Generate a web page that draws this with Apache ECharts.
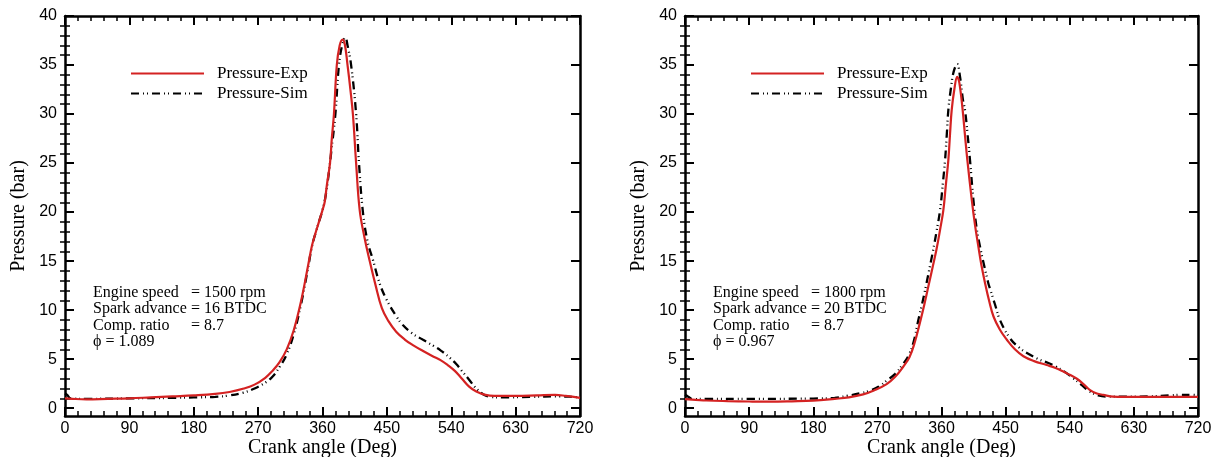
<!DOCTYPE html>
<html>
<head>
<meta charset="utf-8">
<script src="https://cdn.jsdelivr.net/npm/echarts@6/dist/echarts.min.js"></script>
<style>
html,body{margin:0;padding:0;background:#fff;}
#chart{width:1217px;height:457px;}
</style>
</head>
<body>
<div id="chart"></div>
<script>
// ---------- data ----------
const seriesNames = ['Pressure-Exp', 'Pressure-Sim'];
const xTicks = [0, 90, 180, 270, 360, 450, 540, 630, 720];
const yTicks = [0, 5, 10, 15, 20, 25, 30, 35, 40];

// Left chart (1500 rpm)
const leftExpAngle = [0,10,30,60,90,120,150,180,210,230,250,265,280,290,300,310,320,330,340,345,350,355,360,363,366,370.5,373,376,380,384,388,391,395,399,402.5,407,412,419,426,434,443,452,463,475,487,500,514,525,535,545,555,565,575,588,600,630,660,685,700,720];
const leftExpP     = [1.0,0.95,0.9,0.95,1.0,1.1,1.2,1.3,1.45,1.65,2.0,2.4,3.1,3.8,4.7,6.0,8.0,10.9,14.6,16.5,17.8,19.0,20.2,21.0,22.7,25.0,27.5,30.0,35.0,37.0,37.6,37.2,35.0,32.5,30.0,25.0,20.2,17.3,15.0,12.6,10.2,8.9,7.8,7.0,6.4,5.85,5.3,4.9,4.4,3.8,3.0,2.2,1.7,1.35,1.25,1.25,1.3,1.35,1.25,1.05];
const leftSimAngle = [0,3,8,30,90,150,180,210,230,250,265,280,290,300,310,320,330,340,345,350,355,360,364,368,372,378,383,388,392,395,400,407,411,416.5,423,431,440,450,463,472,486,500,514,525,537,547,556,565,575,585,595,612,650,690,710,720];
const leftSimP     = [1.5,1.35,1.0,0.95,1.0,1.05,1.1,1.15,1.3,1.6,2.0,2.6,3.2,4.2,5.5,7.6,10.6,14.4,16.4,17.8,19.0,20.2,21.5,23.5,26.0,30.0,35.0,37.2,37.8,37.0,35.0,30.0,25.0,20.0,17.0,15.0,12.7,11.0,9.4,8.5,7.6,7.0,6.4,5.9,5.2,4.5,3.7,2.9,2.0,1.4,1.15,1.1,1.15,1.2,1.15,1.1];

// Right chart (1800 rpm)
const rightExpAngle = [0,15,30,60,90,120,150,180,210,230,250,265,283,295,306,315,322,330,336,341.5,347,353,358,362.6,366,369.6,372,374.3,378,382,385,389.7,393,396.3,402.4,407,411.7,416,421,427,433,442,451.5,463,475,490,507.6,520,531,540,550,560,568,578,587,601,630,660,690,720];
const rightExpP     = [0.92,0.85,0.78,0.72,0.68,0.66,0.7,0.77,0.95,1.1,1.4,1.8,2.45,3.2,4.2,5.2,6.6,8.8,10.6,12.4,14.2,16.2,18.2,20.2,22.7,25.3,28.0,30.4,32.5,33.8,33.2,30.4,27.8,25.3,21.3,18.7,16.5,14.6,12.8,10.9,9.35,8.0,7.0,6.0,5.3,4.8,4.4,4.1,3.74,3.4,3.0,2.4,1.87,1.5,1.36,1.18,1.15,1.15,1.15,1.15];
const rightSimAngle = [0,4,11,30,90,180,210,227,245,260,272,283,295,306,314,321,327.5,333,338,343,348.5,353,358,362,365,367.5,369.6,373,377,382,386,390,393,396.5,400,404.7,409,414,420,425.7,428,435,442,456,470,483,496,510,521.6,533,545,556,568,580,592,615,650,680,695,713,720];
const rightSimP     = [1.36,1.2,0.92,0.95,0.95,0.98,1.05,1.25,1.5,1.8,2.2,2.8,3.5,4.5,5.4,6.8,9.0,10.7,12.4,14.2,16.2,18.0,20.2,23.0,25.3,28.0,30.4,32.5,34.3,35.1,33.8,31.5,30.4,28.0,25.3,21.3,18.5,16.5,14.5,12.75,12.2,10.6,9.0,7.14,6.12,5.5,5.0,4.6,4.2,3.7,3.06,2.4,1.7,1.3,1.18,1.18,1.2,1.3,1.36,1.36,1.3];

const leftNotes  = [['Engine speed', '= 1500 rpm'], ['Spark advance', '= 16 BTDC'], ['Comp. ratio', '= 8.7'], ['\u03d5 = 1.089', '']];
const rightNotes = [['Engine speed', '= 1800 rpm'], ['Spark advance', '= 20 BTDC'], ['Comp. ratio', '= 8.7'], ['\u03d5 = 0.967', '']];

// ---------- helpers ----------
const zip = (a, b) => a.map((v, i) => [v, b[i]]);
const SERIF = "'Liberation Serif','Times New Roman',serif";
const SANS = "'Liberation Sans',Arial,sans-serif";
const YMIN = -0.8, YMAX = 40;
const minorY = [];
for (let v = 0; v <= 40; v++) if (v % 5 !== 0) minorY.push(v);

const grids = [
  {left: 65, top: 16, width: 515, height: 400, outerBoundsMode: 'none', containLabel: false},
  {left: 685, top: 16, width: 513, height: 400, outerBoundsMode: 'none', containLabel: false}
];

const xAxes = [], yAxes = [];
grids.forEach((g, gi) => {
  const base = {
    type: 'value', gridIndex: gi, min: 0, max: 720, interval: 90,
    axisLine: {show: true, onZero: false, lineStyle: {color: '#000', width: 2.5}},
    axisTick: {show: true, inside: true, length: 9, lineStyle: {color: '#000', width: 2}},
    minorTick: {show: true, splitNumber: 5, length: 5, lineStyle: {color: '#000', width: 1.5}},
    splitLine: {show: false}, minorSplitLine: {show: false}
  };
  xAxes.push(Object.assign({}, base, {
    position: 'bottom',
    name: 'Crank angle (Deg)', nameLocation: 'middle', nameGap: 22, nameMoveOverlap: false,
    nameTextStyle: {fontFamily: SERIF, fontSize: 20, color: '#000', verticalAlign: 'top'},
    axisLabel: {show: true, margin: 5, fontFamily: SANS, fontSize: 16, color: '#000'}
  }));
  xAxes.push(Object.assign({}, base, {position: 'top', axisLabel: {show: false}}));

  const ybase = {
    type: 'value', gridIndex: gi, min: YMIN, max: YMAX,
    splitLine: {show: false}, minorTick: {show: false}
  };
  yAxes.push(Object.assign({}, ybase, {
    position: 'left',
    name: 'Pressure (bar)', nameLocation: 'middle', nameGap: 36,
    nameTextStyle: {fontFamily: SERIF, fontSize: 20, color: '#000'},
    axisLine: {show: true, onZero: false, lineStyle: {color: '#000', width: 2.5}},
    axisTick: {show: true, inside: true, length: 9, customValues: yTicks, lineStyle: {color: '#000', width: 2}},
    axisLabel: {show: true, margin: 8, fontFamily: SANS, fontSize: 16, color: '#000', customValues: yTicks}
  }));
  yAxes.push(Object.assign({}, ybase, {
    position: 'right',
    axisLine: {show: true, onZero: false, lineStyle: {color: '#000', width: 2.5}},
    axisTick: {show: true, inside: true, length: 9, customValues: yTicks, lineStyle: {color: '#000', width: 2}},
    axisLabel: {show: false}
  }));
  yAxes.push(Object.assign({}, ybase, {
    position: 'left',
    axisLine: {show: false},
    axisTick: {show: true, inside: true, length: 5, customValues: minorY, lineStyle: {color: '#000', width: 1.5}},
    axisLabel: {show: false}
  }));
  yAxes.push(Object.assign({}, ybase, {
    position: 'right',
    axisLine: {show: false},
    axisTick: {show: true, inside: true, length: 5, customValues: minorY, lineStyle: {color: '#000', width: 1.5}},
    axisLabel: {show: false}
  }));
});

const expStyle = {color: '#d42222', width: 2.2, type: 'solid'};
const simStyle = {color: '#000', width: 2.3, type: [8, 4, 1, 3, 1, 4]};

function mkSeries(name, data, gi, style, z) {
  return {
    type: 'line', name: name, data: data,
    xAxisIndex: gi * 2, yAxisIndex: gi * 4,
    showSymbol: false, symbol: 'none',
    smooth: 0.4,
    lineStyle: style, itemStyle: {color: style.color},
    z: z, animation: false, silent: true
  };
}

const series = [
  mkSeries(seriesNames[0], zip(leftExpAngle, leftExpP), 0, expStyle, 3),
  mkSeries(seriesNames[1], zip(leftSimAngle, leftSimP), 0, simStyle, 2),
  mkSeries(seriesNames[0], zip(rightExpAngle, rightExpP), 1, expStyle, 3),
  mkSeries(seriesNames[1], zip(rightSimAngle, rightSimP), 1, simStyle, 2)
];

const legends = grids.map(g => ({
  data: seriesNames, orient: 'vertical',
  left: g.left + 65, top: 65, padding: 0,
  itemWidth: 73, itemHeight: 14, itemGap: 3,
  selectedMode: false,
  itemStyle: {opacity: 0},
  textStyle: {fontFamily: SERIF, fontSize: 17, color: '#000', padding: [0, 0, 0, 8]}
}));

const graphics = [];
[[leftNotes, grids[0]], [rightNotes, grids[1]]].forEach(([notes, g]) => {
  const x0 = g.left + 28;
  notes.forEach((n, i) => {
    const y = 293.5 + i * 16.5;
    graphics.push({type: 'text', left: x0, top: y - 9, style: {text: n[0], font: '16px ' + SERIF, fill: '#000'}});
    if (n[1]) graphics.push({type: 'text', left: x0 + 98, top: y - 9, style: {text: n[1], font: '16px ' + SERIF, fill: '#000'}});
  });
});

const chart = echarts.init(document.getElementById('chart'), null, {renderer: 'canvas'});
chart.setOption({
  backgroundColor: '#fff',
  animation: false,
  grid: grids,
  xAxis: xAxes,
  yAxis: yAxes,
  legend: legends,
  series: series,
  graphic: graphics
});
</script>
</body>
</html>
